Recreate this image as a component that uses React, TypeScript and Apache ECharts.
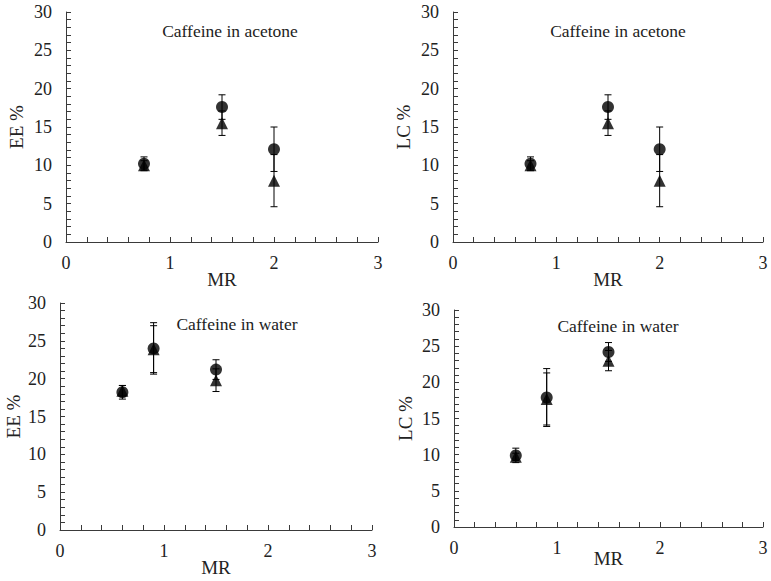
import React, { useEffect, useRef } from "react";
import * as echarts from "echarts";

// ---- data ----
const mrAcetone = [0.75, 1.5, 2];
const acetoneCircle = [10.2, 17.6, 12.1];
const acetoneCircleErr = [0.9, 1.6, 2.9];
const acetoneTriangle = [10.0, 15.5, 8.0];
const acetoneTriangleErr = [0.6, 1.6, 3.4];

const mrWater = [0.6, 0.9, 1.5];
const eeWaterCircle = [18.2, 24.0, 21.2];
const eeWaterCircleErr = [0.9, 3.4, 1.3];
const eeWaterTriangle = [18.4, 23.9, 19.8];
const eeWaterTriangleErr = [0.7, 3.1, 1.5];

const lcWaterCircle = [9.9, 17.9, 24.2];
const lcWaterCircleErr = [1.0, 4.0, 1.3];
const lcWaterTriangle = [9.7, 17.7, 23.0];
const lcWaterTriangleErr = [0.5, 3.6, 1.4];

const xTicks = [0, 1, 2, 3];
const yTicks = [0, 5, 10, 15, 20, 25, 30];

const panelTitles = ["Caffeine in acetone", "Caffeine in acetone", "Caffeine in water", "Caffeine in water"];
const yNames = ["EE %", "LC %", "EE %", "LC %"];
const xName = "MR";

const FONT = "Liberation Serif";
const TEXT = "#222";
const AXIS = "#3a3a3a";

type Panel = {
  x: number[];
  circle: number[];
  circleErr: number[];
  tri: number[];
  triErr: number[];
};

const panels: Panel[] = [
  { x: mrAcetone, circle: acetoneCircle, circleErr: acetoneCircleErr, tri: acetoneTriangle, triErr: acetoneTriangleErr },
  { x: mrAcetone, circle: acetoneCircle, circleErr: acetoneCircleErr, tri: acetoneTriangle, triErr: acetoneTriangleErr },
  { x: mrWater, circle: eeWaterCircle, circleErr: eeWaterCircleErr, tri: eeWaterTriangle, triErr: eeWaterTriangleErr },
  { x: mrWater, circle: lcWaterCircle, circleErr: lcWaterCircleErr, tri: lcWaterTriangle, triErr: lcWaterTriangleErr },
];

const grids = [
  { left: 66, top: 12, width: 312, height: 230 },
  { left: 453, top: 12, width: 310, height: 230 },
  { left: 60, top: 303, width: 312, height: 227 },
  { left: 454, top: 310, width: 309, height: 217 },
];
const xNameGaps = [28, 28, 28, 22];
const yNameGaps = [40, 40, 37, 39];
const titlePos = [
  [230, 31],
  [618, 31],
  [237, 324],
  [618, 326],
];

function errRender(params: any, api: any) {
  const x = api.value(0);
  const lo = api.value(1);
  const hi = api.value(2);
  const pTop = api.coord([x, hi]);
  const pBot = api.coord([x, lo]);
  const cap = 3.5;
  const style = { stroke: "#000", lineWidth: 1 };
  return {
    type: "group",
    children: [
      { type: "line", shape: { x1: pTop[0], y1: pTop[1], x2: pBot[0], y2: pBot[1] }, style },
      { type: "line", shape: { x1: pTop[0] - cap, y1: pTop[1], x2: pTop[0] + cap, y2: pTop[1] }, style },
      { type: "line", shape: { x1: pBot[0] - cap, y1: pBot[1], x2: pBot[0] + cap, y2: pBot[1] }, style },
    ],
  };
}

export default function App() {
  const ref = useRef<HTMLDivElement>(null);
  useEffect(() => {
    if (!ref.current) return;
    const chart = echarts.init(ref.current, null, { renderer: "svg" });

    const xAxis = grids.map((_, i) => ({
      type: "value",
      gridIndex: i,
      min: 0,
      max: 3,
      interval: 1,
      name: xName,
      nameLocation: "middle",
      nameGap: xNameGaps[i],
      nameMoveOverlap: false,
      nameTextStyle: { fontFamily: FONT, fontSize: 19, color: TEXT },
      axisLine: { show: true, onZero: false, lineStyle: { color: AXIS, width: 1 } },
      axisTick: { show: true, inside: true, length: 5, lineStyle: { color: AXIS } },
      minorTick: { show: true, splitNumber: 5, length: 5, lineStyle: { color: AXIS } },
      splitLine: { show: false },
      axisLabel: {
        fontFamily: FONT,
        fontSize: 18,
        color: TEXT,
        margin: 12,
        formatter: (v: number) => (xTicks.includes(v) ? String(v) : ""),
      },
    }));
    const yAxis = grids.map((_, i) => ({
      type: "value",
      gridIndex: i,
      min: 0,
      max: 30,
      interval: 5,
      name: yNames[i],
      nameLocation: "middle",
      nameGap: yNameGaps[i],
      nameMoveOverlap: false,
      nameTextStyle: { fontFamily: FONT, fontSize: 19, color: TEXT },
      axisLine: { show: true, onZero: false, lineStyle: { color: AXIS, width: 1 } },
      axisTick: { show: true, inside: true, length: 5, lineStyle: { color: AXIS } },
      minorTick: { show: true, splitNumber: 5, length: 5, lineStyle: { color: AXIS } },
      splitLine: { show: false },
      axisLabel: {
        fontFamily: FONT,
        fontSize: 18,
        color: TEXT,
        margin: 14,
        formatter: (v: number) => (yTicks.includes(v) ? String(v) : ""),
      },
    }));

    const series: any[] = [];
    panels.forEach((p, i) => {
      series.push({
        type: "custom",
        xAxisIndex: i,
        yAxisIndex: i,
        renderItem: errRender,
        encode: { x: 0, y: [1, 2] },
        data: p.x.map((x, k) => [x, p.tri[k] - p.triErr[k], p.tri[k] + p.triErr[k]]),
        z: 1,
      });
      series.push({
        type: "custom",
        xAxisIndex: i,
        yAxisIndex: i,
        renderItem: errRender,
        encode: { x: 0, y: [1, 2] },
        data: p.x.map((x, k) => [x, p.circle[k] - p.circleErr[k], p.circle[k] + p.circleErr[k]]),
        z: 1,
      });
      series.push({
        type: "scatter",
        xAxisIndex: i,
        yAxisIndex: i,
        symbol: "triangle",
        symbolSize: [12, 12],
        itemStyle: { color: "#000" },
        data: p.x.map((x, k) => [x, p.tri[k]]),
        z: 2,
      });
      series.push({
        type: "scatter",
        xAxisIndex: i,
        yAxisIndex: i,
        symbol: "circle",
        symbolSize: 12,
        itemStyle: { color: "#000" },
        data: p.x.map((x, k) => [x, p.circle[k]]),
        z: 3,
      });
    });

    chart.setOption({
      animation: false,
      backgroundColor: "#fff",
      textStyle: { fontFamily: FONT },
      grid: grids.map((g) => ({ ...g, containLabel: false })),
      xAxis,
      yAxis,
      series,
      graphic: panelTitles.map((t, i) => ({
        type: "text",
        x: titlePos[i][0],
        y: titlePos[i][1],
        style: {
          text: t,
          fontFamily: FONT,
          fontSize: 17.5,
          fill: TEXT,
          textAlign: "center",
          textVerticalAlign: "middle",
        },
      })),
    });
    return () => chart.dispose();
  }, []);

  return (
    <div
      ref={ref}
      style={{ position: "absolute", left: 0, top: 0, width: 771, height: 581, background: "#fff" }}
    />
  );
}
